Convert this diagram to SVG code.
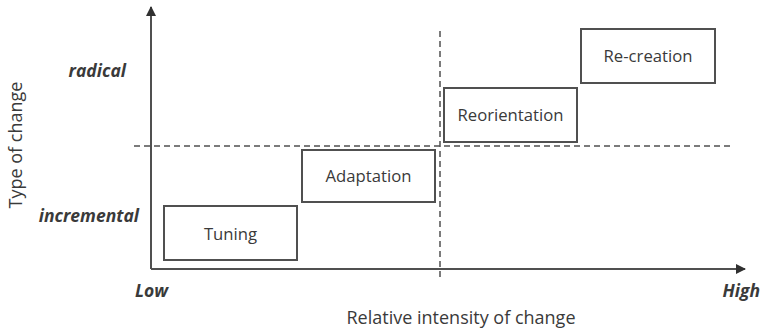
<svg xmlns="http://www.w3.org/2000/svg" width="761" height="330" viewBox="0 0 761 330">
  <style>
    text { font-family: "Open Sans", "Liberation Sans", sans-serif; fill: #3a3a3a; }
    .box rect { fill: #ffffff; stroke: #505050; stroke-width: 2; }
    .box text { font-size: 16.7px; text-anchor: middle; }
    .axis { stroke: #505050; stroke-width: 2; fill: none; }
    .dash { stroke: #505050; stroke-width: 1.5; stroke-dasharray: 6 4; fill: none; }
    .lvl { font-size: 17.5px; font-weight: bold; font-style: italic; }
    .title { font-size: 18px; }
  </style>
  <defs>
    <marker id="arrow" viewBox="0 0 10 10" refX="9" refY="5" markerWidth="5" markerHeight="5" markerUnits="strokeWidth" orient="auto">
      <path d="M0,0 L10,5 L0,10 z" fill="#303030"/>
    </marker>
  </defs>
  <rect width="761" height="330" fill="#ffffff"/>

  <g id="connectors">
    <path class="axis" d="M151,269 V7" marker-end="url(#arrow)"/>
    <path class="axis" d="M151,269 H745" marker-end="url(#arrow)"/>
    <path class="dash" d="M134,146 H730"/>
    <path class="dash" d="M440,31 V281"/>
  </g>

  <g id="tuning" class="box">
    <rect x="164" y="206" width="133" height="54"/>
    <text x="230.5" y="240">Tuning</text>
  </g>
  <g id="adaptation" class="box">
    <rect x="302" y="150" width="133" height="52"/>
    <text x="368.5" y="182">Adaptation</text>
  </g>
  <g id="reorientation" class="box">
    <rect x="444" y="88" width="133" height="54"/>
    <text x="510.5" y="121">Reorientation</text>
  </g>
  <g id="recreation" class="box">
    <rect x="581" y="29" width="134" height="54"/>
    <text x="648" y="62">Re-creation</text>
  </g>

  <g id="labels">
    <text class="lvl" x="126" y="77" text-anchor="end">radical</text>
    <text class="lvl" x="139" y="222" text-anchor="end">incremental</text>
    <text class="lvl" x="135" y="297">Low</text>
    <text class="lvl" x="760" y="297" text-anchor="end">High</text>
    <text class="title" x="461" y="324" text-anchor="middle">Relative intensity of change</text>
    <text class="title" x="0" y="0" text-anchor="middle" transform="translate(22,145) rotate(-90)">Type of change</text>
  </g>
</svg>
